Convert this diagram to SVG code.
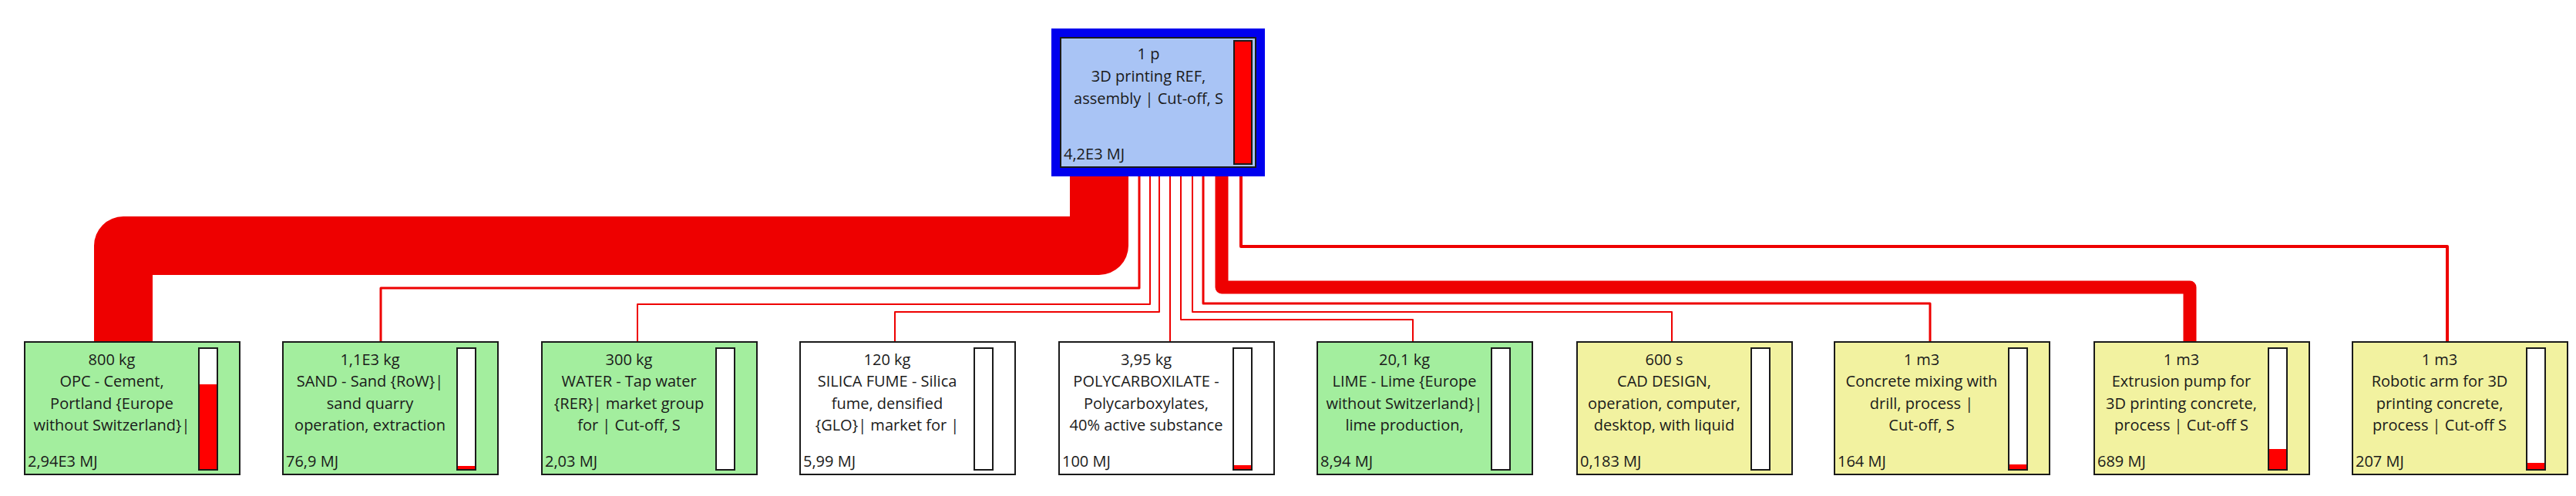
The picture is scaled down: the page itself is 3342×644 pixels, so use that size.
<svg xmlns="http://www.w3.org/2000/svg" width="3342" height="644" viewBox="0 0 3342 644">
<style>
text{font-family:"Open Sans","Noto Sans",sans-serif;font-size:20px;fill:#1a1a1a}
.c{text-anchor:middle}
.nb{stroke:#1a1a1a;stroke-width:2}
.g{fill:#a3ee9e}.w{fill:#ffffff}.y{fill:#f2f2a0}
.bar{fill:#fff;stroke:#1a1a1a;stroke-width:2}
.rf{fill:#ff0000}
.ln{fill:none;stroke:#ee0000;stroke-linejoin:round}
</style>
<g id="connectors">
<path class="ln" d="M1426,220 V319 H160 V444" stroke-width="76" stroke-linejoin="miter"/>
<path class="ln" d="M1478,220 V374 H494 V444" stroke-width="3"/>
<path class="ln" d="M1492,220 V395 H827 V444" stroke-width="2"/>
<path class="ln" d="M1504,220 V405 H1161 V444" stroke-width="2"/>
<path class="ln" d="M1518,220 V444" stroke-width="2"/>
<path class="ln" d="M1532,220 V415 H1833 V444" stroke-width="2"/>
<path class="ln" d="M1547,220 V405 H2169 V444" stroke-width="2"/>
<path class="ln" d="M1561,220 V394 H2504 V444" stroke-width="3"/>
<path class="ln" d="M1585,220 V373 H2841 V444" stroke-width="17"/>
<path class="ln" d="M1610,220 V320 H3175 V444" stroke-width="4"/>
</g>
<g id="top">
<rect x="1370" y="43" width="265" height="180" fill="#a9c4f5" stroke="#0000ee" stroke-width="12"/>
<rect x="1376" y="49" width="253" height="168" fill="none" stroke="#1a1a1a" stroke-width="2"/>
<rect x="1601" y="53" width="23" height="160" class="rf" stroke="#1a1a1a" stroke-width="2"/>
<text class="c" x="1490" y="77">1 p</text>
<text class="c" x="1490" y="106">3D printing REF,</text>
<text class="c" x="1490" y="135">assembly | Cut-off, S</text>
<text x="1380" y="207">4,2E3 MJ</text>
</g>
<g id="n1"><rect class="nb g" x="32" y="444" width="279" height="172"/><rect class="bar" x="258" y="452" width="24" height="158"/><rect class="rf" x="259" y="499" width="22" height="110"/>
<text class="c" x="145" y="474">800 kg</text><text class="c" x="145" y="502">OPC - Cement,</text><text class="c" x="145" y="531">Portland {Europe</text><text class="c" x="145" y="559">without Switzerland}|</text><text x="36" y="606">2,94E3 MJ</text></g>
<g id="n2"><rect class="nb g" x="367" y="444" width="279" height="172"/><rect class="bar" x="593" y="452" width="24" height="158"/><rect class="rf" x="594" y="605" width="22" height="4"/>
<text class="c" x="480" y="474">1,1E3 kg</text><text class="c" x="480" y="502">SAND - Sand {RoW}|</text><text class="c" x="480" y="531">sand quarry</text><text class="c" x="480" y="559">operation, extraction</text><text x="371" y="606">76,9 MJ</text></g>
<g id="n3"><rect class="nb g" x="703" y="444" width="279" height="172"/><rect class="bar" x="929" y="452" width="24" height="158"/>
<text class="c" x="816" y="474">300 kg</text><text class="c" x="816" y="502">WATER - Tap water</text><text class="c" x="816" y="531">{RER}| market group</text><text class="c" x="816" y="559">for | Cut-off, S</text><text x="707" y="606">2,03 MJ</text></g>
<g id="n4"><rect class="nb w" x="1038" y="444" width="279" height="172"/><rect class="bar" x="1264" y="452" width="24" height="158"/>
<text class="c" x="1151" y="474">120 kg</text><text class="c" x="1151" y="502">SILICA FUME - Silica</text><text class="c" x="1151" y="531">fume, densified</text><text class="c" x="1151" y="559">{GLO}| market for |</text><text x="1042" y="606">5,99 MJ</text></g>
<g id="n5"><rect class="nb w" x="1374" y="444" width="279" height="172"/><rect class="bar" x="1600" y="452" width="24" height="158"/><rect class="rf" x="1601" y="604" width="22" height="5"/>
<text class="c" x="1487" y="474">3,95 kg</text><text class="c" x="1487" y="502">POLYCARBOXILATE -</text><text class="c" x="1487" y="531">Polycarboxylates,</text><text class="c" x="1487" y="559">40% active substance</text><text x="1378" y="606">100 MJ</text></g>
<g id="n6"><rect class="nb g" x="1709" y="444" width="279" height="172"/><rect class="bar" x="1935" y="452" width="24" height="158"/>
<text class="c" x="1822" y="474">20,1 kg</text><text class="c" x="1822" y="502">LIME - Lime {Europe</text><text class="c" x="1822" y="531">without Switzerland}|</text><text class="c" x="1822" y="559">lime production,</text><text x="1713" y="606">8,94 MJ</text></g>
<g id="n7"><rect class="nb y" x="2046" y="444" width="279" height="172"/><rect class="bar" x="2272" y="452" width="24" height="158"/>
<text class="c" x="2159" y="474">600 s</text><text class="c" x="2159" y="502">CAD DESIGN,</text><text class="c" x="2159" y="531">operation, computer,</text><text class="c" x="2159" y="559">desktop, with liquid</text><text x="2050" y="606">0,183 MJ</text></g>
<g id="n8"><rect class="nb y" x="2380" y="444" width="279" height="172"/><rect class="bar" x="2606" y="452" width="24" height="158"/><rect class="rf" x="2607" y="603" width="22" height="6"/>
<text class="c" x="2493" y="474">1 m3</text><text class="c" x="2493" y="502">Concrete mixing with</text><text class="c" x="2493" y="531">drill, process |</text><text class="c" x="2493" y="559">Cut-off, S</text><text x="2384" y="606">164 MJ</text></g>
<g id="n9"><rect class="nb y" x="2717" y="444" width="279" height="172"/><rect class="bar" x="2943" y="452" width="24" height="158"/><rect class="rf" x="2944" y="583" width="22" height="26"/>
<text class="c" x="2830" y="474">1 m3</text><text class="c" x="2830" y="502">Extrusion pump for</text><text class="c" x="2830" y="531">3D printing concrete,</text><text class="c" x="2830" y="559">process | Cut-off S</text><text x="2721" y="606">689 MJ</text></g>
<g id="n10"><rect class="nb y" x="3052" y="444" width="279" height="172"/><rect class="bar" x="3278" y="452" width="24" height="158"/><rect class="rf" x="3279" y="601" width="22" height="8"/>
<text class="c" x="3165" y="474">1 m3</text><text class="c" x="3165" y="502">Robotic arm for 3D</text><text class="c" x="3165" y="531">printing concrete,</text><text class="c" x="3165" y="559">process | Cut-off S</text><text x="3056" y="606">207 MJ</text></g>
</svg>
